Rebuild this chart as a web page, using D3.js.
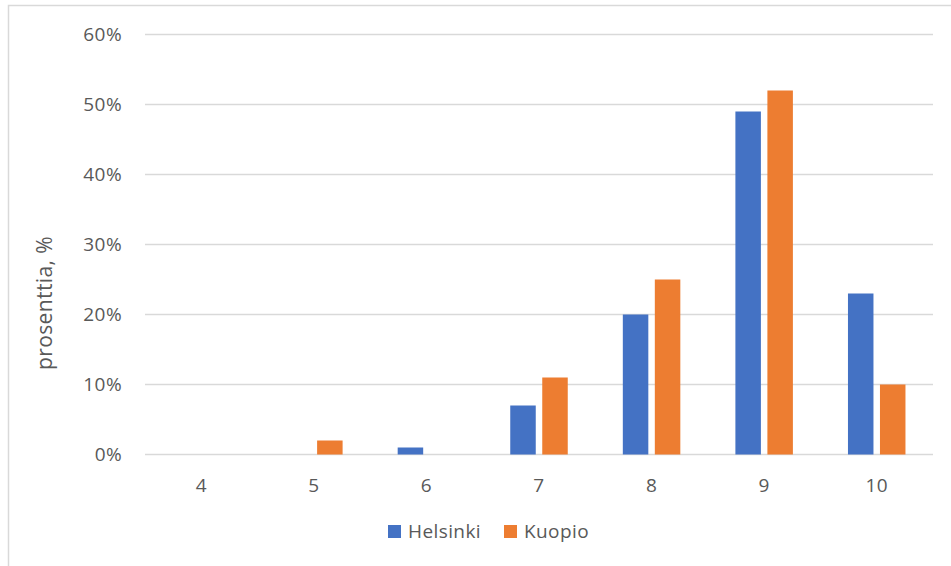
<!DOCTYPE html>
<html>
<head>
<meta charset="utf-8">
<script src="https://cdn.jsdelivr.net/npm/d3@7"></script>
<style>
  body { margin: 0; background: #fff; }
  text { font-family: "Open Sans", "Noto Sans", sans-serif; fill: #595959; letter-spacing: 0.4px; }
</style>
</head>
<body>
<svg width="951" height="566"></svg>
<script>
var categories = ["4", "5", "6", "7", "8", "9", "10"];
var series = ["Helsinki", "Kuopio"];
var helsinki = [0, 0, 1, 7, 20, 49, 23];
var kuopio = [0, 2, 0, 11, 25, 52, 10];
var yTicks = [0, 10, 20, 30, 40, 50, 60];
var colors = ["#4472c4", "#ed7d31"];

var svg = d3.select("svg");

// chart border
svg.append("rect")
  .attr("x", 8.5).attr("y", 5.5)
  .attr("width", 960).attr("height", 600)
  .attr("fill", "none")
  .attr("stroke", "#d9d9d9")
  .attr("stroke-width", 1.5);

var plotLeft = 145, plotRight = 933, plotTop = 34.5, plotBottom = 454.5;

var x = d3.scaleBand().domain(categories).range([plotLeft, plotRight]);
var y = d3.scaleLinear().domain([0, 60]).range([plotBottom, plotTop]);

// gridlines
svg.append("g")
  .selectAll("line")
  .data(yTicks)
  .enter().append("line")
  .attr("x1", plotLeft).attr("x2", plotRight)
  .attr("y1", d => y(d)).attr("y2", d => y(d))
  .attr("stroke", "#d9d9d9")
  .attr("stroke-width", 1.3);

// y labels
svg.append("g")
  .selectAll("text")
  .data(yTicks)
  .enter().append("text")
  .attr("x", 122)
  .attr("y", d => y(d))
  .attr("dy", "0.35em")
  .attr("text-anchor", "end")
  .style("font-size", "19px")
  .text(d => d + "%");

// x labels
svg.append("g")
  .selectAll("text")
  .data(categories)
  .enter().append("text")
  .attr("x", d => x(d) + x.bandwidth() / 2)
  .attr("y", 485)
  .attr("dy", "0.35em")
  .attr("text-anchor", "middle")
  .style("font-size", "19px")
  .text(d => d);

var barW = 25.5, gap = 6.5;
var data = [helsinki, kuopio];

series.forEach(function(s, i) {
  svg.append("g")
    .selectAll("rect")
    .data(categories)
    .enter().append("rect")
    .attr("x", d => x(d) + x.bandwidth() / 2 - barW - gap / 2 + i * (barW + gap))
    .attr("y", (d, j) => y(data[i][j]))
    .attr("width", barW)
    .attr("height", (d, j) => plotBottom - y(data[i][j]))
    .attr("fill", colors[i]);
});

// y axis title
svg.append("text")
  .attr("transform", "translate(45,303) rotate(-90)")
  .attr("text-anchor", "middle")
  .attr("dy", "0.35em")
  .style("font-size", "21px")
  .text("prosenttia, %");

// legend
var legendX = [388, 504];
series.forEach(function(s, i) {
  svg.append("rect")
    .attr("x", legendX[i]).attr("y", 525)
    .attr("width", 13).attr("height", 13)
    .attr("fill", colors[i]);
  svg.append("text")
    .attr("x", legendX[i] + 20)
    .attr("y", 531.5)
    .attr("dy", "0.35em")
    .style("font-size", "19px")
    .text(s);
});
</script>
</body>
</html>
